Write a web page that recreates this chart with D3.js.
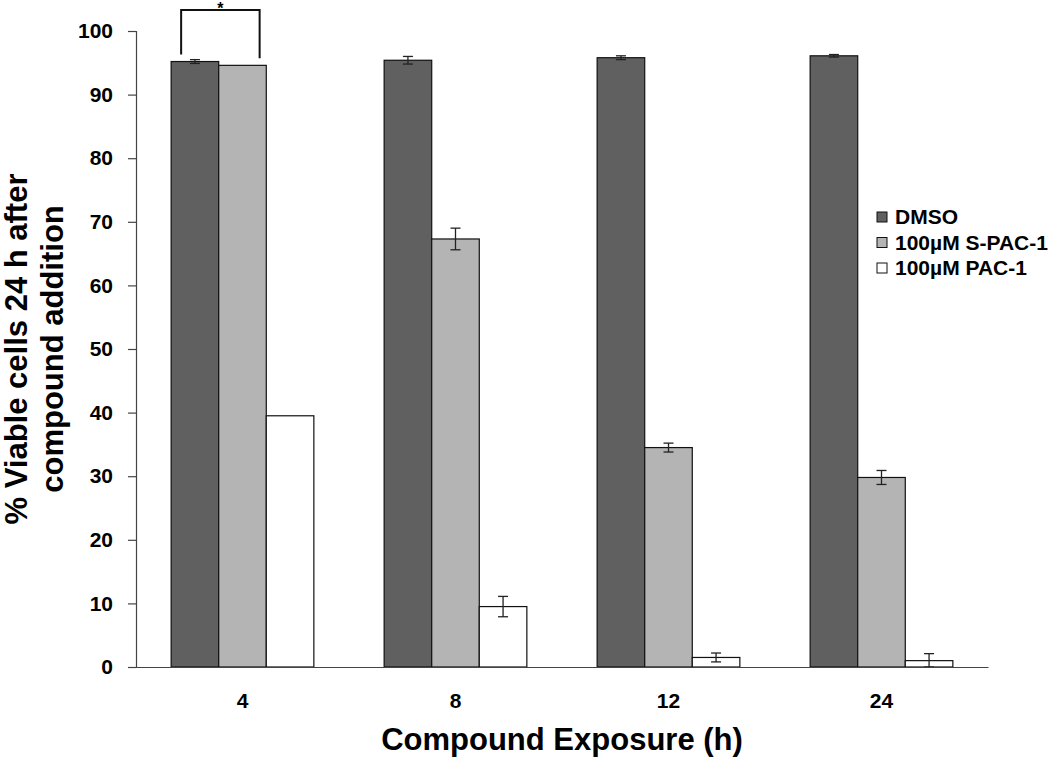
<!DOCTYPE html>
<html><head><meta charset="utf-8">
<script src="https://cdn.jsdelivr.net/npm/d3@7"></script>
<style>body{margin:0;background:#fff}text{font-family:"Liberation Sans",Arial,sans-serif;font-weight:bold;fill:#000}</style>
</head><body><svg id="c" width="1050" height="758"></svg>
<script>
const categories = ["4", "8", "12", "24"];
const seriesNames = ["DMSO", "100\u00b5M S-PAC-1", "100\u00b5M PAC-1"];
const dmso = [95.2, 95.4, 95.8, 96.1];
const dmsoErr = [0.3, 0.6, 0.3, 0.2];
const spac = [94.6, 67.3, 34.5, 29.8];
const spacErr = [0, 1.7, 0.7, 1.1];
const pac = [39.5, 9.5, 1.5, 1.0];
const pacErr = [0, 1.6, 0.7, 1.1];
const yTicks = [0, 10, 20, 30, 40, 50, 60, 70, 80, 90, 100];
const colors = ["#606060", "#b4b4b4", "#ffffff"];

const svg = d3.select("#c");
const x0 = 136, x1 = 988, yTop = 31, yBot = 667;
const x = d3.scaleBand().domain(categories).range([x0, x1]).paddingInner(0.33).paddingOuter(0.165);
const xs = d3.scaleBand().domain(seriesNames).range([0, x.bandwidth()]);
const y = d3.scaleLinear().domain([0, 100]).range([yBot, yTop]);

const series = [
  {name: seriesNames[0], vals: dmso, err: dmsoErr, color: colors[0]},
  {name: seriesNames[1], vals: spac, err: spacErr, color: colors[1]},
  {name: seriesNames[2], vals: pac, err: pacErr, color: colors[2]}
];

series.forEach(s => {
  const g = svg.append("g");
  g.selectAll("rect").data(categories).join("rect")
    .attr("x", (c) => x(c) + xs(s.name))
    .attr("y", (c, i) => y(s.vals[i]))
    .attr("width", xs.bandwidth())
    .attr("height", (c, i) => y(0) - y(s.vals[i]))
    .attr("fill", s.color).attr("stroke", "#111").attr("stroke-width", 1.2);
  categories.forEach((c, i) => {
    if (!s.err[i]) return;
    const cx = x(c) + xs(s.name) + xs.bandwidth() / 2;
    const lo = Math.max(0, s.vals[i] - s.err[i]), hi = s.vals[i] + s.err[i];
    g.append("line").attr("x1", cx).attr("x2", cx).attr("y1", y(lo)).attr("y2", y(hi)).attr("stroke", "#222").attr("stroke-width", 1.3);
    [lo, hi].forEach(v => g.append("line").attr("x1", cx - 5).attr("x2", cx + 5).attr("y1", y(v)).attr("y2", y(v)).attr("stroke", "#222").attr("stroke-width", 1.3));
  });
});

const fontCss = "'Liberation Sans',Arial,sans-serif";
const yAxis = d3.axisLeft(y).tickValues(yTicks).tickSize(8).tickPadding(15);
const ga = svg.append("g").attr("transform", `translate(${x0},0)`).call(yAxis);
ga.select(".domain").attr("stroke", "#444").attr("stroke-width", 1.2);
ga.selectAll(".tick line").attr("stroke", "#444").attr("stroke-width", 1.2);
ga.selectAll("text").style("font-size", "21px").style("font-family", fontCss).style("font-weight", "bold").attr("fill", "#000");

const xAxis = d3.axisBottom(x).tickSize(0).tickPadding(26);
const gx = svg.append("g").attr("transform", `translate(0,${yBot})`).call(xAxis);
gx.select(".domain").attr("stroke", "#444").attr("stroke-width", 1.2);
gx.selectAll("text").style("font-size", "21px").style("font-family", fontCss).style("font-weight", "bold").attr("fill", "#000");

svg.append("text").attr("x", 562).attr("y", 750).attr("text-anchor", "middle").style("font-size", "31px").text("Compound Exposure (h)");
const yt = svg.append("text").attr("transform", "translate(0,349) rotate(-90)").attr("text-anchor", "middle").style("font-size", "31px");
yt.append("tspan").attr("x", 0).attr("y", 27).text("% Viable cells 24 h after");
yt.append("tspan").attr("x", 0).attr("y", 63).text("compound addition");

// significance bracket
const b0 = x(categories[0]);
const bx1 = b0 + xs(seriesNames[0]) + xs.bandwidth() * 0.21;
const bx2 = b0 + xs(seriesNames[1]) + xs.bandwidth() * 0.86;
svg.append("path").attr("d", `M${bx1},${y(dmso[0]) - 7}V10H${bx2}V${y(spac[0]) - 7}`).attr("fill", "none").attr("stroke", "#111").attr("stroke-width", 2);
svg.append("text").attr("x", (bx1 + bx2) / 2).attr("y", 14).attr("text-anchor", "middle").style("font-size", "16px").text("*");

const lg = svg.append("g").attr("transform", "translate(877,212)");
series.forEach((s, i) => {
  lg.append("rect").attr("x", 0).attr("y", i * 25.5).attr("width", 10).attr("height", 10).attr("fill", s.color).attr("stroke", "#111").attr("stroke-width", 1);
  lg.append("text").attr("x", 18).attr("y", i * 25.5 + 12).style("font-size", "21px").text(s.name);
});
</script></body></html>
